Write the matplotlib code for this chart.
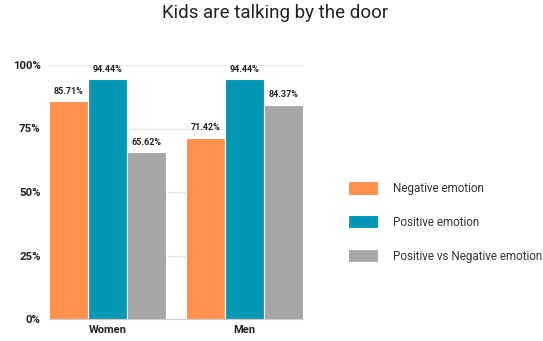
import matplotlib.pyplot as plt
import numpy as np

plt.rcParams['font.family'] = ['Roboto', 'DejaVu Sans']

groups = ['Women', 'Men']
series = ['Negative emotion', 'Positive emotion', 'Positive vs Negative emotion']
values = [
    [85.71, 71.42],
    [94.44, 94.44],
    [65.62, 84.37],
]
colors = ['#FF914D', '#0097B2', '#A6A6A6']
yticks = [0, 25, 50, 75, 100]

fig = plt.figure(figsize=(5.43, 3.41), dpi=100)
ax = fig.add_axes([49 / 543, 22 / 341, 254 / 543, 254 / 341])

x = np.arange(len(groups))
w = 0.285
handles = []
for i, (name, vals, c) in enumerate(zip(series, values, colors)):
    pos = x + (i - 1) * w
    b = ax.bar(pos, vals, width=w, color=c, edgecolor='white', linewidth=0.8,
               label=name, zorder=3)
    handles.append(b)
    for px, v in zip(pos, vals):
        ax.annotate(f'{v:.2f}%', (px, v), xytext=(0, 4), textcoords='offset points',
                    ha='center', va='bottom', fontsize=6.5, fontweight='bold',
                    color='#222222')

ax.set_xlim(-0.427, 1.427)
ax.set_ylim(0, 100)
ax.set_yticks(yticks)
ax.set_yticklabels([f'{t}%' for t in yticks], fontsize=8.2, fontweight='bold', color='#222222')
ax.set_xticks(x)
ax.set_xticklabels(groups, fontsize=8, fontweight='bold', color='#222222')
ax.tick_params(axis='both', length=0)
ax.tick_params(axis='y', pad=6)
ax.tick_params(axis='x', pad=4)
ax.grid(axis='y', color='#e6e6e6', linewidth=0.9, zorder=0)
for s in ['top', 'right', 'left']:
    ax.spines[s].set_visible(False)
ax.spines['bottom'].set_color('#cccccc')
ax.spines['bottom'].set_zorder(4)

fig.text(0.507, 0.962, 'Kids are talking by the door', ha='center', va='center',
         fontsize=13.5, color='#222222')

fig.legend(handles=handles, loc='center left', bbox_to_anchor=(348 / 543, 0.349),
           frameon=False, fontsize=8.4, handlelength=2.56, handleheight=1.37,
           labelspacing=1.75, handletextpad=1.3, borderpad=0, borderaxespad=0,
           labelcolor='#333333')

fig.savefig('out.png', dpi=100)
